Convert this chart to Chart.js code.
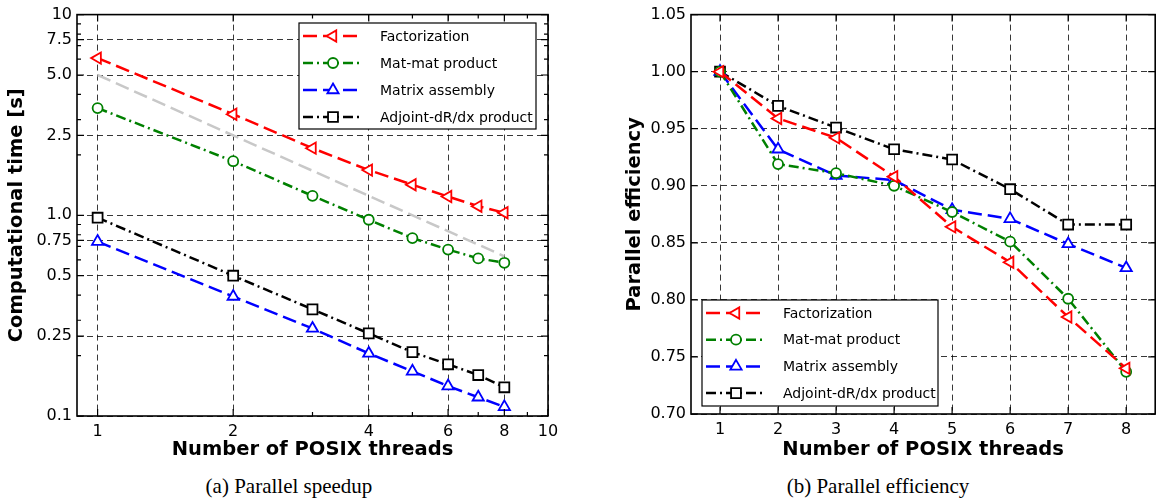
<!DOCTYPE html>
<html>
<head>
<meta charset="utf-8">
<script src="https://cdn.jsdelivr.net/npm/chart.js@4.4.1/dist/chart.umd.min.js"></script>
<style>
  body { margin: 0; background: #fff; width: 1164px; height: 502px; position: relative; overflow: hidden; }
  canvas { position: absolute; top: 0; }
  .cap { position: absolute; top: 474px; font-family: "Liberation Serif", serif; font-size: 21px; text-align: center; color: #000; }
</style>
</head>
<body>
<canvas id="speedup" width="582" height="470" style="left:0"></canvas>
<canvas id="eff" width="582" height="470" style="left:582px"></canvas>
<div class="cap" style="left:0;width:578px">(a) Parallel speedup</div>
<div class="cap" style="left:582px;width:592px">(b) Parallel efficiency</div>

<script>
// ---- data ----
const threads = [1, 2, 3, 4, 5, 6, 7, 8];
const seriesNames = ['Factorization', 'Mat-mat product', 'Matrix assembly', 'Adjoint-dR/dx product'];

// (a) computational time [s]
const timeFactorization = [6.07, 3.19, 2.16, 1.68, 1.42, 1.24, 1.11, 1.03];
const timeMatMat = [3.42, 1.86, 1.25, 0.95, 0.77, 0.675, 0.61, 0.58];
const timeAssembly = [0.74, 0.394, 0.273, 0.205, 0.167, 0.141, 0.124, 0.111];
const timeAdjoint = [0.973, 0.50, 0.34, 0.258, 0.208, 0.181, 0.160, 0.139];
// ideal scaling reference line (gray)
const idealThreads = [1, 8];
const idealTime = [5.0, 0.625];

// (b) parallel efficiency
const effFactorization = [1.0, 0.959, 0.942, 0.908, 0.864, 0.833, 0.785, 0.740];
const effMatMat = [1.0, 0.919, 0.911, 0.900, 0.877, 0.851, 0.801, 0.737];
const effAssembly = [1.0, 0.932, 0.909, 0.905, 0.879, 0.871, 0.849, 0.828];
const effAdjoint = [1.0, 0.970, 0.951, 0.932, 0.923, 0.897, 0.866, 0.866];

// axis ticks
const timeTicks = [0.1, 0.25, 0.5, 0.75, 1, 2.5, 5, 7.5, 10];
const timeTickLabels = ['0.1', '0.25', '0.5', '0.75', '1.0', '2.5', '5.0', '7.5', '10'];
const timeMinorTicks = [0.2, 0.3, 0.4, 0.6, 0.7, 0.8, 0.9, 2, 3, 4, 6, 7, 8, 9];
const logThreadTicks = [1, 2, 4, 6, 8, 10];
const logThreadMinorTicks = [3, 5, 7, 9];
const effTicks = [0.70, 0.75, 0.80, 0.85, 0.90, 0.95, 1.00, 1.05];
const threadTicks = [1, 2, 3, 4, 5, 6, 7, 8];

Chart.defaults.font.family = '"DejaVu Sans", sans-serif';
Chart.defaults.color = '#000';

const DASH = [14, 6];
const DASHDOT = [10, 4, 2, 4];
const styles = [
  { color: '#ff0000', dash: DASH, pointStyle: 'triangle', rotation: -90, radius: 6.5 },
  { color: '#008000', dash: DASHDOT, pointStyle: 'circle', rotation: 0, radius: 5 },
  { color: '#0000ff', dash: DASH, pointStyle: 'triangle', rotation: 0, radius: 6.5 },
  { color: '#000000', dash: DASHDOT, pointStyle: 'rect', rotation: 0, radius: 7 }
];

function makeSet(label, xs, ys, st) {
  return {
    label,
    data: xs.map((x, i) => ({ x, y: ys[i] })),
    borderColor: st.color,
    borderWidth: 2.5,
    borderDash: st.dash,
    pointStyle: st.pointStyle,
    pointRotation: st.rotation,
    pointRadius: st.radius,
    pointBorderWidth: 1.8,
    pointBorderColor: st.color,
    pointBackgroundColor: '#fff',
    tension: 0
  };
}

// box, inward ticks and matplotlib-like legend
const frameAndLegend = {
  id: 'frameAndLegend',
  afterDraw(chart, args, opts) {
    const { ctx, chartArea: a, scales: { x, y } } = chart;
    ctx.save();
    ctx.setLineDash([]);
    ctx.strokeStyle = '#000';
    ctx.lineWidth = 1.2;
    ctx.beginPath();
    const tx = (vals, len) => vals.forEach(v => {
      const p = x.getPixelForValue(v);
      ctx.moveTo(p, a.bottom); ctx.lineTo(p, a.bottom - len);
      ctx.moveTo(p, a.top); ctx.lineTo(p, a.top + len);
    });
    const ty = (vals, len) => vals.forEach(v => {
      const p = y.getPixelForValue(v);
      ctx.moveTo(a.left, p); ctx.lineTo(a.left + len, p);
      ctx.moveTo(a.right, p); ctx.lineTo(a.right - len, p);
    });
    tx(opts.xMajor, 7); tx(opts.xMinor || [], 4);
    ty(opts.yMajor, 7); ty(opts.yMinor || [], 4);
    ctx.stroke();
    ctx.lineWidth = 1.6;
    ctx.strokeRect(a.left, a.top, a.right - a.left, a.bottom - a.top);

    // legend
    const L = opts.legend;
    ctx.fillStyle = '#fff';
    ctx.fillRect(L.x, L.y, L.w, L.h);
    ctx.lineWidth = 1.2;
    ctx.strokeStyle = '#000';
    ctx.strokeRect(L.x, L.y, L.w, L.h);
    ctx.font = '14px "DejaVu Sans", sans-serif';
    ctx.textBaseline = 'middle';
    seriesNames.forEach((name, i) => {
      const st = styles[i];
      const ry = L.row0 + i * L.rowStep;
      ctx.strokeStyle = st.color;
      ctx.lineWidth = 2.5;
      ctx.setLineDash(st.dash);
      ctx.beginPath();
      ctx.moveTo(L.x + 4, ry);
      ctx.lineTo(L.x + 64, ry);
      ctx.stroke();
      ctx.setLineDash([]);
      ctx.fillStyle = '#fff';
      ctx.lineWidth = 1.8;
      Chart.helpers.drawPoint(ctx, { pointStyle: st.pointStyle, rotation: st.rotation, radius: st.radius, borderWidth: 1.8 }, L.x + 34, ry);
      ctx.fillStyle = '#000';
      ctx.fillText(name, L.x + 81, ry + 1);
    });
    ctx.restore();
  }
};

const gridStyle = { color: 'rgba(0,0,0,0.78)', lineWidth: 1, drawTicks: false };
const borderStyle = { display: false, dash: [6, 4] };
const titleFont = { size: 19.5, weight: 'bold' };

// ---- (a) parallel speedup ----
new Chart(document.getElementById('speedup'), {
  type: 'line',
  data: {
    datasets: [
      makeSet(seriesNames[0], threads, timeFactorization, styles[0]),
      {
        label: 'ideal',
        data: idealThreads.map((x, i) => ({ x, y: idealTime[i] })),
        borderColor: '#c8c8c8', borderWidth: 2.5, borderDash: [14, 6], pointRadius: 0
      },
      makeSet(seriesNames[1], threads, timeMatMat, styles[1]),
      makeSet(seriesNames[2], threads, timeAssembly, styles[2]),
      makeSet(seriesNames[3], threads, timeAdjoint, styles[3])
    ]
  },
  options: {
    responsive: false,
    animation: false,
    layout: { padding: { left: 0, top: 13, right: 34, bottom: 0 } },
    plugins: {
      legend: { display: false },
      tooltip: { enabled: false },
      frameAndLegend: {
        xMajor: logThreadTicks, xMinor: logThreadMinorTicks,
        yMajor: timeTicks, yMinor: timeMinorTicks,
        legend: { x: 299, y: 23, w: 237, h: 106, row0: 36, rowStep: 27 }
      }
    },
    scales: {
      x: {
        type: 'logarithmic', min: 0.9, max: 10,
        afterBuildTicks: s => { s.ticks = logThreadTicks.map(v => ({ value: v })); },
        afterFit: s => { s.height = 54; },
        ticks: { autoSkip: false, maxRotation: 0, padding: 6, font: { size: 16 }, callback: v => String(v) },
        grid: gridStyle, border: borderStyle,
        title: { display: true, text: 'Number of POSIX threads', font: titleFont, padding: { top: 0, bottom: 8 } }
      },
      y: {
        type: 'logarithmic', min: 0.1, max: 10,
        afterBuildTicks: s => { s.ticks = timeTicks.map(v => ({ value: v })); },
        afterFit: s => { s.width = 77; },
        ticks: { autoSkip: false, padding: 5, font: { size: 16 }, callback: (v, i) => timeTickLabels[i] },
        grid: gridStyle, border: borderStyle,
        title: { display: true, text: 'Computational time [s]', font: titleFont, padding: { top: 5, bottom: 0 } }
      }
    }
  },
  plugins: [frameAndLegend]
});

// ---- (b) parallel efficiency ----
new Chart(document.getElementById('eff'), {
  type: 'line',
  data: {
    datasets: [
      makeSet(seriesNames[0], threads, effFactorization, styles[0]),
      makeSet(seriesNames[1], threads, effMatMat, styles[1]),
      makeSet(seriesNames[2], threads, effAssembly, styles[2]),
      makeSet(seriesNames[3], threads, effAdjoint, styles[3])
    ]
  },
  options: {
    responsive: false,
    animation: false,
    layout: { padding: { left: 0, top: 13.5, right: 4, bottom: 0 } },
    plugins: {
      legend: { display: false },
      tooltip: { enabled: false },
      frameAndLegend: {
        xMajor: threadTicks, yMajor: effTicks,
        legend: { x: 120, y: 300, w: 236, h: 106, row0: 313, rowStep: 26.7 }
      }
    },
    scales: {
      x: {
        type: 'linear', min: 0.5, max: 8.5,
        afterBuildTicks: s => { s.ticks = threadTicks.map(v => ({ value: v })); },
        afterFit: s => { s.height = 56; },
        ticks: { autoSkip: false, maxRotation: 0, padding: 6, font: { size: 16 }, callback: v => String(v) },
        grid: gridStyle, border: borderStyle,
        title: { display: true, text: 'Number of POSIX threads', font: titleFont, padding: { top: 0, bottom: 8 } }
      },
      y: {
        type: 'linear', min: 0.70, max: 1.05,
        afterBuildTicks: s => { s.ticks = effTicks.map(v => ({ value: v })); },
        afterFit: s => { s.width = 109; },
        ticks: { autoSkip: false, padding: 5, font: { size: 16 }, callback: v => v.toFixed(2) },
        grid: gridStyle, border: borderStyle,
        title: { display: true, text: 'Parallel efficiency', font: titleFont, padding: { top: 41, bottom: 0 } }
      }
    }
  },
  plugins: [frameAndLegend]
});
</script>
</body>
</html>
